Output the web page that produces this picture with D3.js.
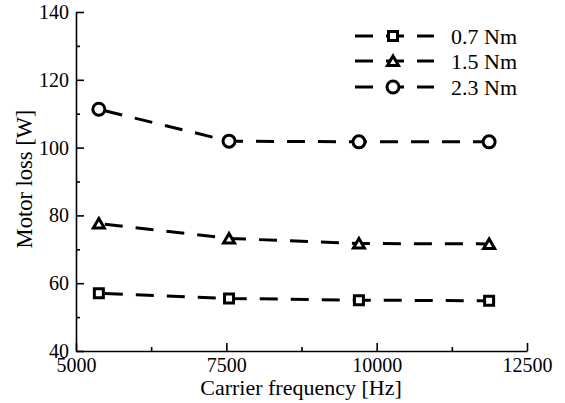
<!DOCTYPE html>
<html>
<head>
<meta charset="utf-8">
<script src="https://cdn.jsdelivr.net/npm/d3@7"></script>
<style>
  body { margin: 0; background: #fff; }
  svg text { font-family: 'Liberation Serif', 'DejaVu Serif', serif; }
</style>
</head>
<body>
<div id="chart"></div>
<script>
// carrier frequency [Hz] and motor loss [W] per load torque
const frequencies = [5380, 7545, 9705, 11870]
const series = ['0.7 Nm', '1.5 Nm', '2.3 Nm']
const symbols = ['square', 'triangle', 'circle']
const loss07 = [57.0, 55.5, 55.0, 54.8]
const loss15 = [77.6, 73.2, 71.7, 71.6]
const loss23 = [111.3, 101.9, 101.7, 101.7]
const xTicks = [5000, 7500, 10000, 12500]
const xMinor = [6250, 8750, 11250]
const yTicks = [40, 60, 80, 100, 120, 140]
const yMinor = [50, 70, 90, 110, 130]

const width = 565
const height = 403
const values = [loss07, loss15, loss23]
const serif = "'Liberation Serif', 'DejaVu Serif', serif"

const svg = d3.select('#chart').append('svg')
  .attr('width', width)
  .attr('height', height)

const x = d3.scaleLinear().domain([5000, 12500]).range([76, 527])
const y = d3.scaleLinear().domain([40, 140]).range([351, 12])

// marker shapes, drawn around (0,0)
function markerPath(kind) {
  if (kind === 'square') return 'M-4.5,-4.5H4.5V4.5H-4.5Z'
  if (kind === 'triangle') return 'M0,-5L5.5,4.5H-5.5Z'
  return 'M6,0A6,6 0 1,1 -6,0A6,6 0 1,1 6,0Z'
}

function drawMarker(g, kind, cx, cy) {
  g.append('path')
    .attr('d', markerPath(kind))
    .attr('transform', `translate(${cx},${cy})`)
    .attr('fill', '#fff')
    .attr('stroke', '#000')
    .attr('stroke-width', 3)
}

// axes
svg.append('g')
  .attr('transform', `translate(0,${y(40)})`)
  .call(d3.axisBottom(x).tickValues(xTicks).tickSizeInner(-8).tickSizeOuter(0).tickPadding(7).tickFormat(d3.format('d')))
svg.append('g')
  .attr('transform', `translate(0,${y(40)})`)
  .call(d3.axisBottom(x).tickValues(xMinor).tickSizeInner(-4).tickSizeOuter(0).tickFormat(''))
  .select('.domain').remove()

svg.append('g')
  .attr('transform', `translate(${x(5000)},0)`)
  .call(d3.axisLeft(y).tickValues(yTicks).tickSizeInner(-8).tickSizeOuter(0).tickPadding(7))
svg.append('g')
  .attr('transform', `translate(${x(5000)},0)`)
  .call(d3.axisLeft(y).tickValues(yMinor).tickSizeInner(-4).tickSizeOuter(0).tickFormat(''))
  .select('.domain').remove()

svg.selectAll('g').attr('font-family', serif)
svg.selectAll('.domain, .tick line')
  .attr('stroke', '#000')
  .attr('stroke-width', 1.6)
svg.selectAll('.tick text')
  .attr('fill', '#000')
  .attr('font-family', serif)
  .attr('font-size', 20)

// axis titles
svg.append('text')
  .attr('x', 301)
  .attr('y', 395)
  .attr('text-anchor', 'middle')
  .attr('font-family', serif)
  .attr('font-size', 22)
  .text('Carrier frequency [Hz]')

svg.append('text')
  .attr('transform', 'translate(32,179) rotate(-90)')
  .attr('text-anchor', 'middle')
  .attr('font-family', serif)
  .attr('font-size', 22.5)
  .text('Motor loss [W]')

// series
const line = d3.line().x(d => x(d[0])).y(d => y(d[1]))

values.forEach((vals, i) => {
  const pts = frequencies.map((f, j) => [f, vals[j]])
  const g = svg.append('g')
  g.append('path')
    .attr('d', line(pts))
    .attr('fill', 'none')
    .attr('stroke', '#000')
    .attr('stroke-width', 3)
    .attr('stroke-dasharray', '18,13')
    .attr('stroke-dashoffset', -6)
  pts.forEach(p => drawMarker(g, symbols[i], x(p[0]), y(p[1])))
})

// legend
const legendRows = [36, 61, 87]
series.forEach((name, i) => {
  const g = svg.append('g').attr('transform', `translate(355,${legendRows[i]})`)
  g.append('line')
    .attr('x1', 0).attr('x2', 79)
    .attr('y1', 0).attr('y2', 0)
    .attr('stroke', '#000')
    .attr('stroke-width', 3)
    .attr('stroke-dasharray', '18,13')
  drawMarker(g, symbols[i], 38, 0)
  g.append('text')
    .attr('x', 96)
    .attr('y', 0)
    .attr('dy', '0.35em')
    .attr('font-family', serif)
    .attr('font-size', 22)
    .text(name)
})
</script>
</body>
</html>
